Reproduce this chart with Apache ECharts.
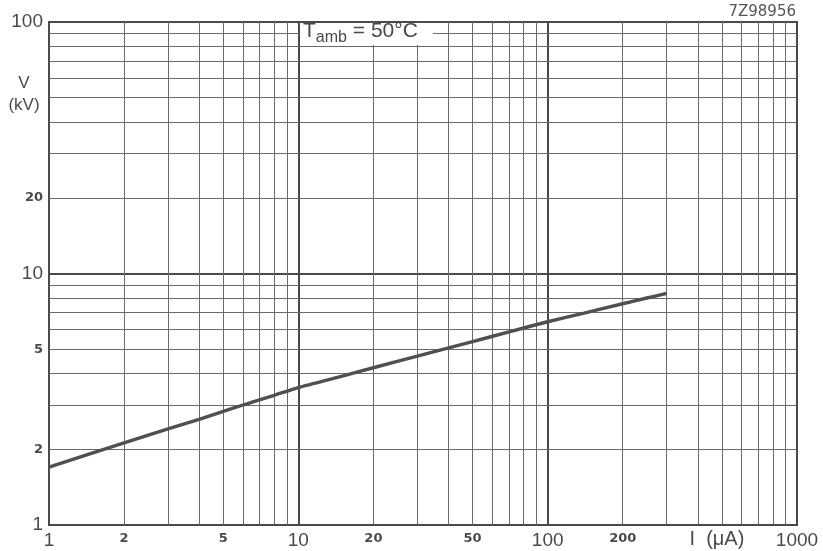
<!DOCTYPE html>
<html><head><meta charset="utf-8">
<script src="https://cdn.jsdelivr.net/npm/echarts@6/dist/echarts.min.js"></script>
<style>html,body{margin:0;padding:0;background:#fff}#c{width:823px;height:551px}</style>
</head><body><div id="c"></div>
<script>
// Curve data: I (µA) vs V (kV)
const currentUA = [1, 2, 3, 4, 5, 6, 8, 10, 15, 20, 30, 37, 50, 70, 100, 140, 200, 250, 300];
const voltageKV = [1.70, 2.12, 2.41, 2.63, 2.83, 3.0, 3.28, 3.52, 3.91, 4.22, 4.69, 4.96, 5.36, 5.86, 6.43, 6.96, 7.58, 7.99, 8.33];

// Grid and tick labels
const xMinorGrid = [2,3,4,5,6,7,8,9,20,30,40,50,60,70,80,90,200,300,400,500,600,700,800,900];
const yMinorGrid = [2,3,4,5,6,7,8,9,20,30,40,50,60,70,80,90];
const xMinorLabels = [2, 5, 20, 50, 200];
const yMinorLabels = [2, 5, 20];
const xAxisTitle = 'I  (μA)';
const xAxisTitleAt = 500;
const yAxisTitle = ['V', '(kV)'];
const yAxisTitleAt = 50;
const titleParts = ['T', 'amb', ' = 50°C'];
const drawingCode = '7Z98956';

const ink = '#4a4a4a';
const gridInk = '#6a6a6a';

const minorLabelStyle = { fontFamily: 'DejaVu Sans', fontWeight: 'bold', fontSize: 13, color: ink };

const xLines = xMinorGrid.map(v => {
  const item = { xAxis: v };
  if (xMinorLabels.includes(v)) {
    item.label = Object.assign({ show: true, position: 'start', distance: 7, formatter: String(v) }, minorLabelStyle);
  } else if (v === xAxisTitleAt) {
    item.label = { show: true, position: 'start', distance: 4, formatter: xAxisTitle, offset: [-5, 0],
      fontFamily: 'Liberation Sans', fontSize: 20, color: ink };
  }
  return item;
});
const yLines = yMinorGrid.map(v => {
  const item = { yAxis: v };
  if (yMinorLabels.includes(v)) {
    item.label = Object.assign({ show: true, position: 'start', distance: 6, formatter: String(v) }, minorLabelStyle);
  } else if (v === yAxisTitleAt) {
    item.label = { show: true, position: 'start', distance: 6,
      formatter: '{a|' + yAxisTitle[0] + '}\n{a|' + yAxisTitle[1] + '}',
      offset: [0, -3],
      rich: { a: { width: 38, align: 'center', fontFamily: 'Liberation Sans', fontSize: 17, lineHeight: 22, color: ink } } };
  }
  return item;
});

const chart = echarts.init(document.getElementById('c'));
chart.setOption({
  backgroundColor: '#fff',
  animation: false,
  grid: { left: 49, right: 26, top: 22, bottom: 26, containLabel: false,
          show: true, borderColor: ink, borderWidth: 2 },
  xAxis: {
    type: 'log', logBase: 10, min: 1, max: 1000,
    axisLine: { show: true, lineStyle: { color: ink, width: 2 } },
    axisTick: { show: false },
    splitLine: { show: true, lineStyle: { color: ink, width: 2 } },
    axisLabel: { fontFamily: 'Liberation Sans', fontSize: 19, color: ink, margin: 6,
                 formatter: v => String(v) }
  },
  yAxis: {
    type: 'log', logBase: 10, min: 1, max: 100,
    axisLine: { show: true, lineStyle: { color: ink, width: 2 } },
    axisTick: { show: false },
    splitLine: { show: true, lineStyle: { color: ink, width: 2 } },
    axisLabel: { fontFamily: 'Liberation Sans', fontSize: 19, color: ink, margin: 6,
                 formatter: v => String(v) }
  },
  series: [
    {
      type: 'line', data: [], silent: true, z: 1,
      markLine: {
        silent: true, symbol: 'none', animation: false,
        lineStyle: { color: gridInk, width: 1, type: 'solid' },
        label: { show: false },
        emphasis: { disabled: true },
        data: xLines.concat(yLines)
      }
    },
    {
      type: 'line', z: 5, smooth: 0.2, symbol: 'none', silent: true,
      lineStyle: { color: '#505050', width: 3.4 },
      data: currentUA.map((x, i) => [x, voltageKV[i]])
    }
  ],
  graphic: [
    { type: 'rect', left: 300, top: 23, z: 10, shape: { width: 133, height: 22 }, style: { fill: '#fff' } },
    { type: 'text', left: 303, top: 21, z: 11,
      style: {
        text: '{t|' + titleParts[0] + '}{s|' + titleParts[1] + '}{t|' + titleParts[2] + '}',
        rich: {
          t: { fontFamily: 'Liberation Sans', fontSize: 21, fill: ink, lineHeight: 24, verticalAlign: 'top' },
          s: { fontFamily: 'Liberation Sans', fontSize: 16, fill: ink, padding: [9, 0, 0, 0], lineHeight: 24, verticalAlign: 'top' }
        }
      } },
    { type: 'text', right: 27, top: 5, z: 11,
      style: { text: drawingCode, fontFamily: 'DejaVu Sans', fontSize: 15, fill: '#555', fontWeight: 'normal' } }
  ]
});
</script>
</body></html>
